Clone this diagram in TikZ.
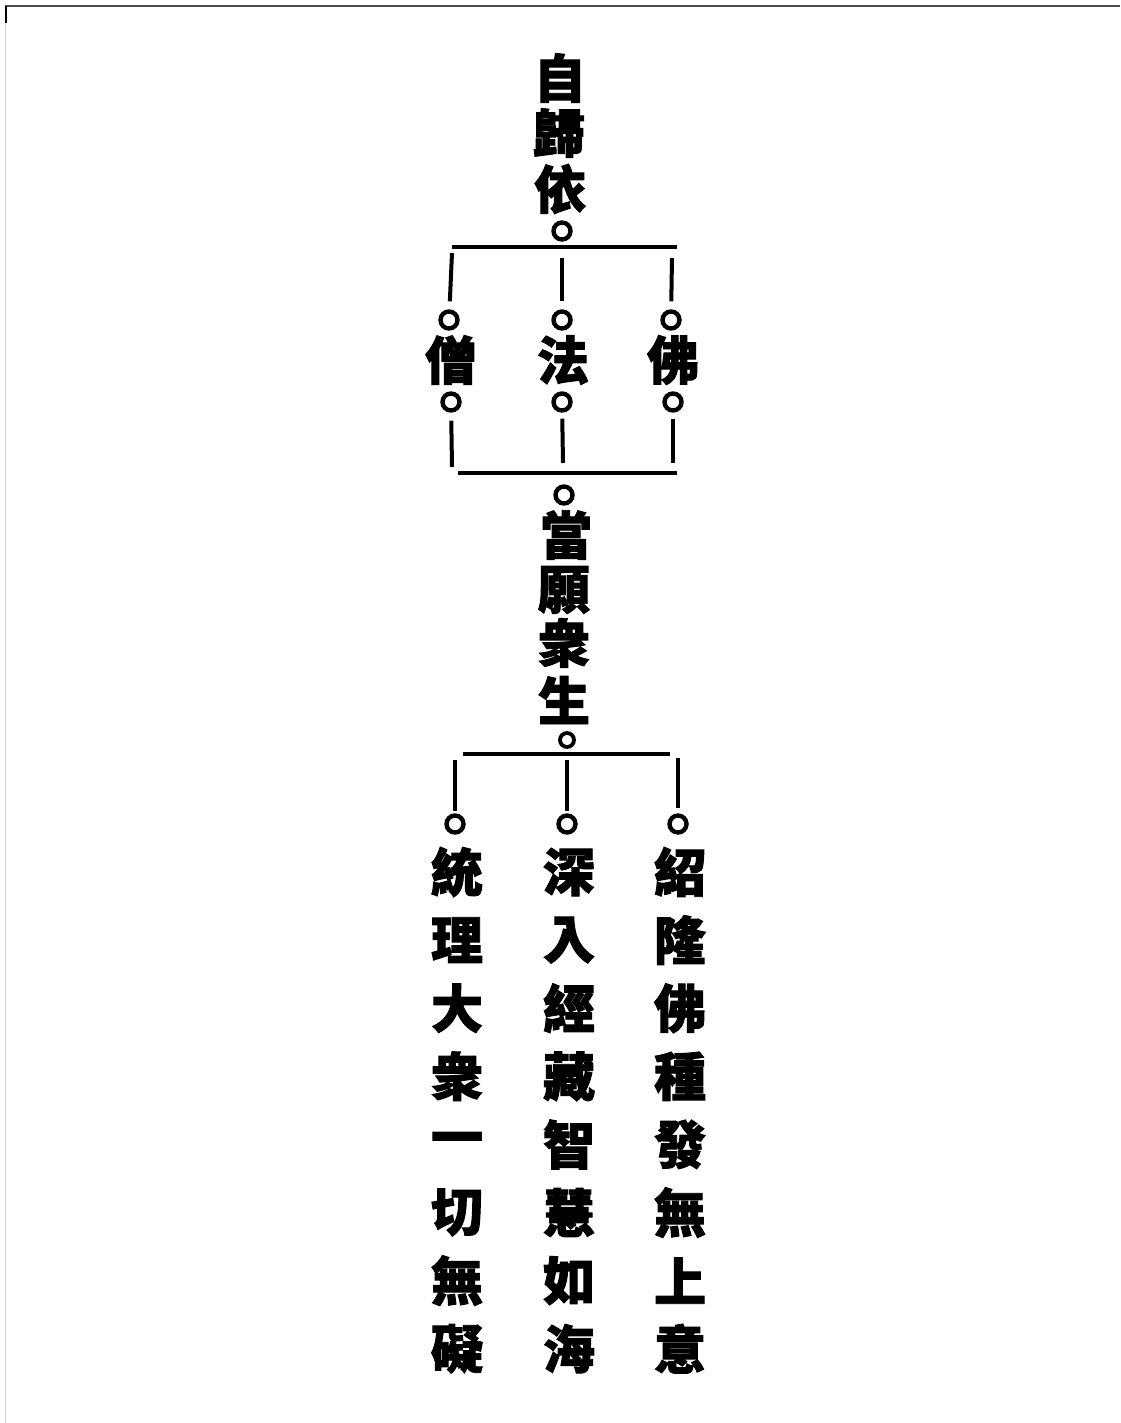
\documentclass[tikz,border=0pt]{standalone}
\usepackage{fontspec}
\IfFontExistsTF{Noto Sans CJK TC Bold}
  {\newfontfamily\cjk{Noto Sans CJK TC Bold}[FakeBold=1.8]}
  {\newfontfamily\cjk{Noto Sans CJK TC}[BoldFeatures={FakeBold=1.8}]}
\begin{document}
\begin{tikzpicture}[x=1pt,y=-1pt,
  ch/.style={font=\cjk\bfseries\fontsize{52}{52}\selectfont, inner sep=0pt, anchor=center},
  ring/.style={circle, draw, line width=4.4pt, minimum size=17pt, inner sep=0pt},
  sring/.style={ring, line width=3.8pt, minimum size=14pt},
  bar/.style={line width=4pt},
  stem/.style={line width=4pt}]
\useasboundingbox (0,0) rectangle (1120,1423);
% frame remnants
\draw[line width=2pt, black!70] (5,6.5) -- (1120,6.5);
\draw[line width=1pt, black!18] (5.5,7) -- (5.5,1423);
\draw[line width=2pt] (5.5,6) -- (5.5,23);

% top column
\node[ch] (t1) at (560,78) {自};
\node[ch] (t2) at (559,133) {歸};
\node[ch] (t3) at (560,189) {依};
\node[ring] (r0) at (562,231) {};

% first bar
\coordinate (b1l) at (452,247);
\coordinate (b1r) at (677,247);
\draw[bar] (b1l) -- (b1r);
\coordinate (s1a) at (452,253);
\coordinate (s1b) at (562,258);
\coordinate (s1c) at (672,258);

\node[ring] (cS1) at (449,320) {};
\node[ring] (cF1) at (562,320) {};
\node[ring] (cB1) at (671,320) {};
\draw[stem, shorten >=8pt] (s1a) -- (cS1);
\draw[stem, shorten >=8pt] (s1b) -- (cF1);
\draw[stem, shorten >=8pt] (s1c) -- (cB1);

\node[ch] (seng) at (451,360) {僧};
\node[ch] (fa)   at (563,360) {法};
\node[ch] (fo)   at (673,360) {佛};

\node[ring] (cS2) at (451,402) {};
\node[ring] (cF2) at (562,402) {};
\node[ring] (cB2) at (673,402) {};

\coordinate (s2a) at (452,467);
\coordinate (s2b) at (563,463);
\coordinate (s2c) at (673,463);
\draw[stem, shorten <=8pt] (cS2) -- (s2a);
\draw[stem, shorten <=6pt] (cF2) -- (s2b);
\draw[stem, shorten <=6pt] (cB2) -- (s2c);

\coordinate (b2l) at (458,473);
\coordinate (b2r) at (677,473);
\draw[bar] (b2l) -- (b2r);

\node[ring] (r1) at (564,495) {};

% middle column
\node[ch] (m1) at (566,535) {當};
\node[ch] (m2) at (564,590) {願};
\node[ch] (m3) at (564,643) {衆};
\node[ch] (m4) at (564,700) {生};
\node[sring] (r2) at (567,740) {};

% third bar
\coordinate (b3l) at (463,754);
\coordinate (b3r) at (670,754);
\draw[bar, line width=3.4pt] (b3l) -- (b3r);
\coordinate (s3a) at (455,760);
\coordinate (s3b) at (567,760);
\coordinate (s3c) at (678,758);

\node[ring] (cL) at (455,824) {};
\node[ring] (cM) at (567,824) {};
\node[ring] (cR) at (678,824) {};
\draw[stem, shorten >=2pt] (s3a) -- (cL);
\draw[stem, shorten >=2pt] (s3b) -- (cM);
\draw[stem, shorten >=5pt] (s3c) -- (cR);

% bottom columns
\foreach \c [count=\i] in {統,理,大,衆,一,切,無,礙}
  \node[ch] (L\i) at (457,{872+(\i-1)*68.1}) {\c};
\foreach \c [count=\i] in {深,入,經,藏,智,慧,如,海}
  \node[ch] (M\i) at (569,{872+(\i-1)*68.1}) {\c};
\foreach \c [count=\i] in {紹,隆,佛,種,發,無,上,意}
  \node[ch] (R\i) at (680,{872+(\i-1)*68.1}) {\c};
\end{tikzpicture}
\end{document}
